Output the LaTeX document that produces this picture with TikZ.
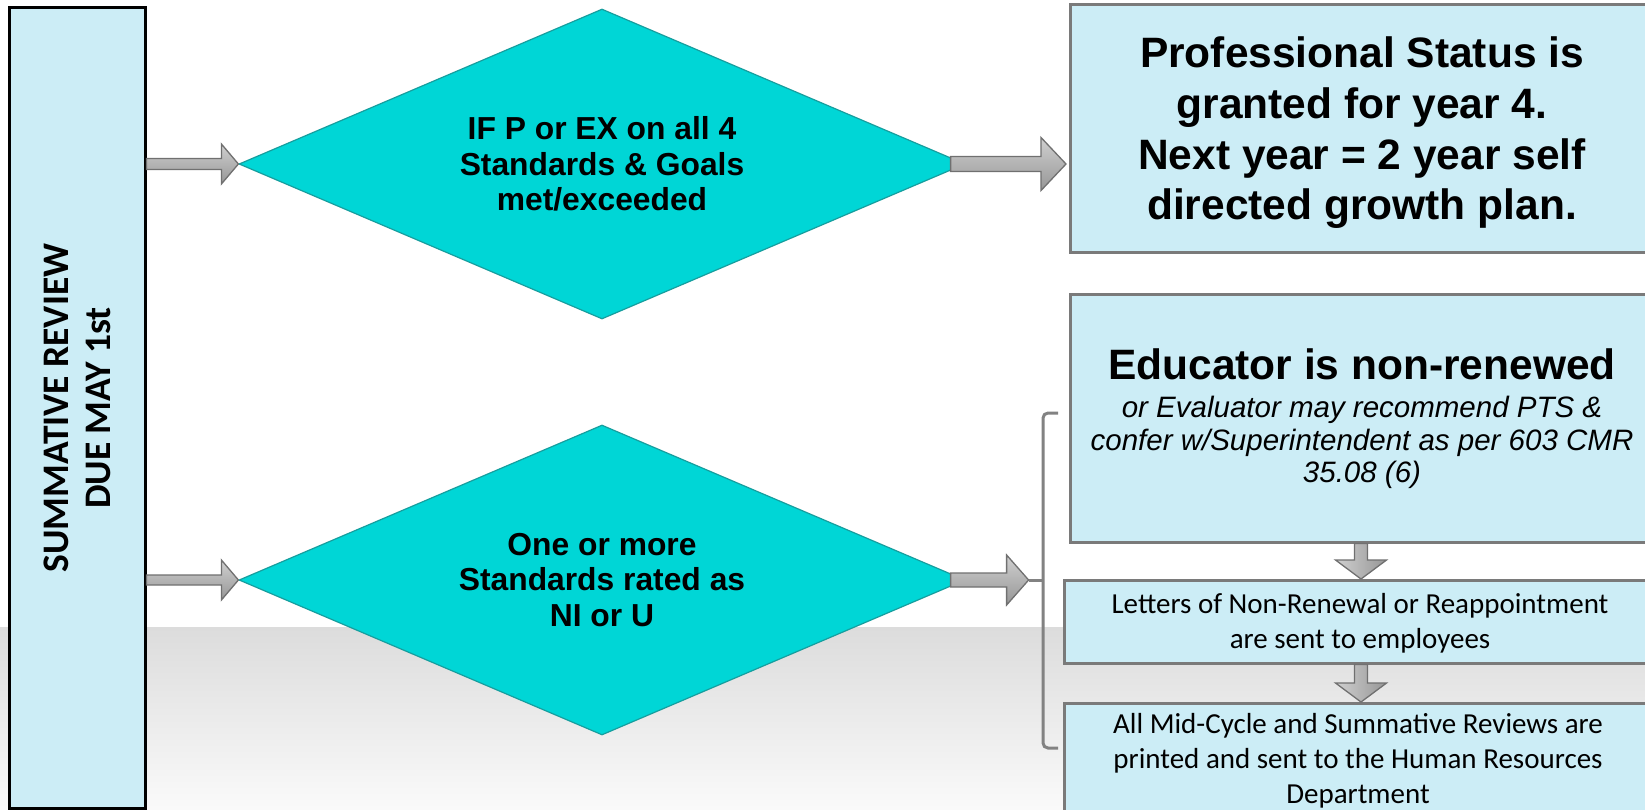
\documentclass[tikz,border=0pt]{standalone}
\usepackage{fontspec}
\setmainfont{Liberation Sans}
\newfontfamily\calibrifont{Carlito}
\usetikzlibrary{shapes.geometric,calc}
\definecolor{boxblue}{RGB}{204,237,246}
\definecolor{boxedge}{RGB}{122,122,122}
\definecolor{dfill}{RGB}{0,214,214}
\definecolor{dedge}{RGB}{22,158,158}
\definecolor{arrlight}{RGB}{208,208,208}
\definecolor{arrdark}{RGB}{150,150,150}
\definecolor{arredge}{RGB}{112,112,112}
\definecolor{brk}{RGB}{130,130,130}
\definecolor{bandtop}{RGB}{220,220,220}
\definecolor{bandbot}{RGB}{250,250,250}
\tikzset{
  bluebox/.style={rectangle, draw=boxedge, line width=2.5pt, fill=boxblue, inner sep=0pt, anchor=north west},
  decision/.style={diamond, draw=dedge, line width=1.2pt, fill=dfill, shape aspect=2.34,
    minimum width=726pt, minimum height=310pt, inner sep=0pt, align=center,
    font=\fontsize{31.8}{35.5}\selectfont\bfseries},
  blockarr/.style={draw=arredge, line width=1.3pt, top color=arrlight, bottom color=arrdark, line join=miter},
  blockarrv/.style={draw=arredge, line width=1.3pt, left color=arrlight, right color=arrdark, line join=miter},
  bracketline/.style={draw=brk, line width=3pt, rounded corners=5pt},
  bigtext/.style={align=center, inner sep=0pt, font=\fontsize{42.5}{50.7}\selectfont\bfseries},
  smalltext/.style={align=center, inner sep=0pt, font=\calibrifont\fontsize{29}{35}\selectfont},
}
\newcommand\harrow[5]{\path[blockarr] ($(#1)+(0,-#3)$) -- ($(#2)+(-#5,-#3)$) -- ($(#2)+(-#5,-#4)$) -- (#2) -- ($(#2)+(-#5,#4)$) -- ($(#2)+(-#5,#3)$) -- ($(#1)+(0,#3)$) -- cycle;}
\newcommand\varrow[5]{\path[blockarrv] ($(#1)+(-#3,0)$) -- ($(#2)+(-#3,-#5)$) -- ($(#2)+(-#4,-#5)$) -- (#2) -- ($(#2)+(#4,-#5)$) -- ($(#2)+(#3,-#5)$) -- ($(#1)+(#3,0)$) -- cycle;}
\begin{document}
\begin{tikzpicture}[x=1pt,y=-1pt]
\useasboundingbox (0,0) rectangle (1645,809);
\clip (0,0) rectangle (1645,809);
\fill[white] (0,0) rectangle (1645,809);
% background band
\shade[top color=bandtop, bottom color=bandbot] (0,627) rectangle (1645,809);

% left box
\node[bluebox, draw=black, minimum width=136pt, minimum height=801pt] (lbox) at (8,6) {};
\node[rotate=90, align=center, inner sep=0pt, font=\calibrifont\fontsize{37.5}{42}\selectfont\bfseries] (ltxt) at (77,408) {SUMMATIVE REVIEW\\DUE MAY 1st};

% decisions
\node[decision] (d1) at (602,164) {IF P or EX on all 4\\Standards \& Goals\\met/exceeded};
\node[decision] (d2) at (602,580) {One or more\\Standards rated as\\NI or U};

% right boxes
\node[bluebox, minimum width=590pt, minimum height=248pt] (pro) at (1069,3) {};
\node[bluebox, minimum width=590pt, minimum height=248pt] (edu) at (1069,293) {};
\node[bluebox, minimum width=596pt, minimum height=83pt] (let) at (1063,579) {};
\node[bluebox, minimum width=596pt, minimum height=140pt] (allr) at (1063,702) {};

\node[bigtext] (protxt) at (1362,133) {Professional Status is\\granted for year 4.\\Next year = 2 year self\\directed growth plan.};
\node[align=center, inner sep=0pt, font=\fontsize{29.5}{32.5}\selectfont\itshape] (edutxt) at (1362,419)
  {{\fontsize{42.5}{42.5}\selectfont\bfseries\upshape Educator is non-renewed}\\[5.5pt]or Evaluator may recommend PTS \&\\confer w/Superintendent as per 603 CMR\\35.08 (6)};
\node[smalltext] (lettxt) at (1360,623) {Letters of Non-Renewal or Reappointment\\are sent to employees};
\node[smalltext] (alltxt) at (1358,761) {All Mid-Cycle and Summative Reviews are\\printed and sent to the Human Resources\\Department};

% horizontal block arrows
\coordinate (a1s) at (lbox.east |- d1.west);
\harrow{a1s}{d1.west}{5.5}{20}{17}
\coordinate (a2s) at (lbox.east |- d2.west);
\harrow{a2s}{d2.west}{5}{20}{17}
\coordinate (a3s) at ($(d1.east)+(-15,0)$);
\coordinate (a3t) at ($(pro.west |- d1.east)+(-3,0)$);
\harrow{a3s}{a3t}{7.5}{26.5}{25}
\coordinate (a4s) at ($(d2.east)+(-15,0)$);
\coordinate (a4t) at ($(d2.east)+(63,0)$);
\harrow{a4s}{a4t}{7}{25}{22}

% bracket
\coordinate (bkt) at (1058,413);
\coordinate (bkb) at (1058,748);
\coordinate (bkm) at (1043,580);
\draw[draw=brk, line width=3pt] (a4t) -- (bkm);
\draw[bracketline] (bkt) -- (bkt -| bkm) -- (bkb -| bkm) -- (bkb);

% vertical block arrows
\path (edu.south west) ++(292,0) coordinate (v1s);
\path (let.north west) ++(298,0) coordinate (v1t);
\path (let.south west) ++(298,0) coordinate (v2s);
\path (allr.north west) ++(298,0) coordinate (v2t);
\varrow{v1s}{v1t}{6.5}{25.5}{19}
\varrow{v2s}{v2t}{6.5}{25.5}{19}
\end{tikzpicture}
\end{document}
